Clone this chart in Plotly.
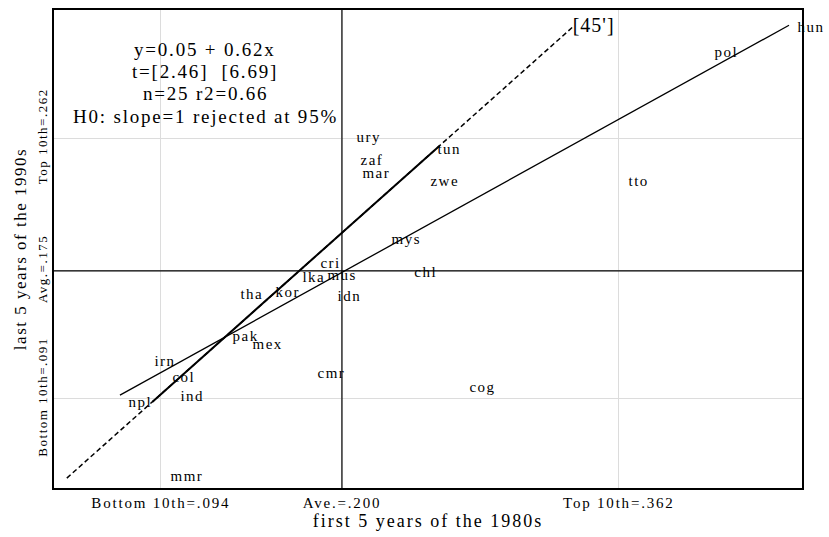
import plotly.graph_objects as go

# Country averages: first 5 years of the 1980s (x) vs last 5 years of the 1990s (y)
countries = ["hun", "pol", "ury", "zaf", "mar", "tun", "zwe", "mys", "cri", "chl",
             "tto", "lka", "mus", "idn", "tha", "kor", "pak", "mex", "cmr", "irn",
             "col", "ind", "npl", "mmr", "cog"]
early = [0.4616, 0.4130, 0.2035, 0.2059, 0.2070, 0.2509, 0.2468, 0.2240, 0.1824, 0.2374,
         0.3627, 0.1719, 0.1865, 0.1924, 0.1356, 0.1561, 0.1310, 0.1427, 0.1807, 0.0853,
         0.0958, 0.1005, 0.0701, 0.0947, 0.2696]
late = [0.3345, 0.3175, 0.2619, 0.2469, 0.2384, 0.2541, 0.2332, 0.1953, 0.1796, 0.1737,
        0.2332, 0.1704, 0.1717, 0.1580, 0.1587, 0.1600, 0.1312, 0.1260, 0.1070, 0.1149,
        0.1044, 0.0920, 0.0881, 0.0397, 0.0979]

# Reference values for the axes
x_ticks = [0.094, 0.200, 0.362]
x_tick_text = ["Bottom 10th=.094", "Ave.=.200", "Top 10th=.362"]
y_ticks = [0.091, 0.175, 0.262]
y_tick_text = ["Bottom 10th=.091", "Avg.=.175", "Top 10th=.262"]

# Regression y = a + b x
intercept, slope = 0.05, 0.62
stats_lines = ["y=0.05 + 0.62x", "t=[2.46]  [6.69]", "n=25 r2=0.66",
               "H0: slope=1 rejected at 95%"]

# 45-degree reference line extent (dashed) and its solid middle part
diag_full = [0.039, 0.335]
diag_solid = [0.089, 0.257]

SERIF = "Liberation Serif, Times New Roman, serif"


def spaced(s, px):
    """Wrap text in a span with extra letter spacing."""
    return f'<span style="letter-spacing:{px}px">{s}</span>'


fig = go.Figure()

# 45-degree line
fig.add_trace(go.Scatter(x=diag_full, y=diag_full, mode="lines",
                         line=dict(color="black", width=1.5, dash="5px,3px"),
                         hoverinfo="skip", showlegend=False))
fig.add_trace(go.Scatter(x=diag_solid, y=diag_solid, mode="lines",
                         line=dict(color="black", width=2),
                         hoverinfo="skip", showlegend=False))
fig.add_trace(go.Scatter(x=[diag_full[1]], y=[diag_full[1]], mode="text",
                         text=[spaced("[45']", 1)], textposition="middle right",
                         textfont=dict(family=SERIF, size=20, color="black"),
                         cliponaxis=False, hoverinfo="skip", showlegend=False))

# Fitted line across the observed range
x_fit = [min(early), max(early)]
y_fit = [intercept + slope * v for v in x_fit]
fig.add_trace(go.Scatter(x=x_fit, y=y_fit, mode="lines",
                         line=dict(color="black", width=1.3),
                         hoverinfo="skip", showlegend=False))

# Country labels
fig.add_trace(go.Scatter(x=early, y=late, mode="markers+text",
                         text=[spaced(c, 1.5) for c in countries],
                         textposition="middle right",
                         marker=dict(size=12, color="rgba(0,0,0,0)"),
                         textfont=dict(family=SERIF, size=15, color="black"),
                         cliponaxis=False, showlegend=False))

# Average cross-hair
fig.add_shape(type="line", xref="x", yref="paper", x0=x_ticks[1], x1=x_ticks[1],
              y0=0, y1=1, line=dict(color="black", width=1.2))
fig.add_shape(type="line", xref="paper", yref="y", x0=0, x1=1,
              y0=y_ticks[1], y1=y_ticks[1], line=dict(color="black", width=1.2))

# Regression statistics, one line per annotation for tight spacing
stat_y = [0.9167, 0.8708, 0.825, 0.7771]
for line, yy in zip(stats_lines, stat_y):
    fig.add_annotation(xref="paper", yref="paper", x=0.2019, y=yy,
                       xanchor="center", yanchor="middle",
                       text=spaced(line, 1.8), showarrow=False,
                       font=dict(family=SERIF, size=19, color="black"))

fig.update_xaxes(range=[0.0315, 0.4692], tickvals=x_ticks,
                 ticktext=[spaced(t, 1.8) for t in x_tick_text],
                 showgrid=True, gridcolor="#dcdcdc", gridwidth=1, zeroline=False,
                 showline=True, mirror=True, linecolor="black", linewidth=2,
                 ticks="", tickfont=dict(family=SERIF, size=15, color="black"),
                 title=dict(text=spaced("first 5 years of the 1980s", 2), standoff=2,
                            font=dict(family=SERIF, size=18, color="black")))
fig.update_yaxes(range=[0.0325, 0.3462], tickvals=y_ticks,
                 ticktext=[spaced(t, 1.5) for t in y_tick_text],
                 tickangle=-90,
                 showgrid=True, gridcolor="#dcdcdc", gridwidth=1, zeroline=False,
                 showline=True, mirror=True, linecolor="black", linewidth=2,
                 ticks="", tickfont=dict(family=SERIF, size=13, color="black"),
                 title=dict(text=spaced("last 5 years of the 1990s", 1.5), standoff=4,
                            font=dict(family=SERIF, size=17, color="black")))

fig.update_layout(width=829, height=537, margin=dict(l=54, r=27, t=8, b=49),
                  paper_bgcolor="white", plot_bgcolor="white")

fig.write_html("out.html")
